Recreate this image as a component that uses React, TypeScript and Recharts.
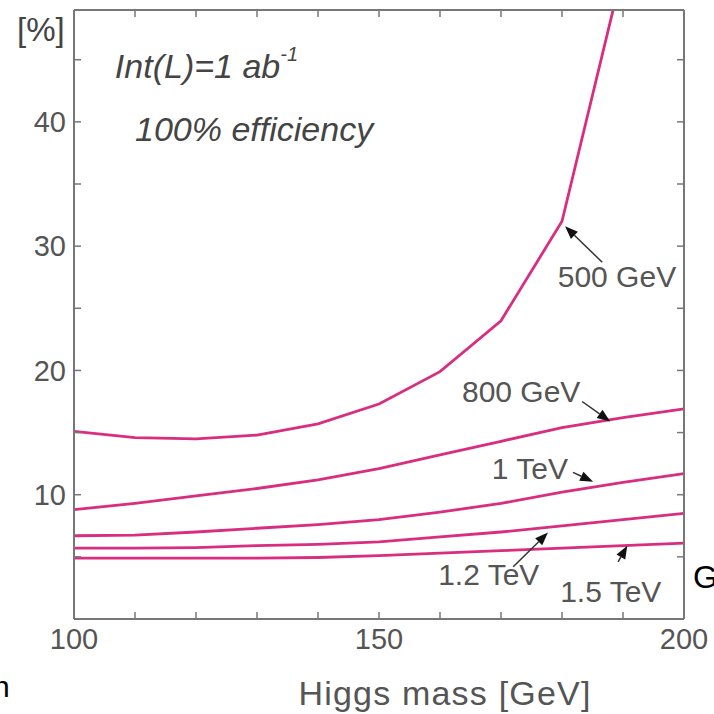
import React from 'react'
import { LineChart, Line, XAxis, YAxis, ReferenceLine, ReferenceDot } from 'recharts'

// Higgs mass [GeV]
const masses = [100, 110, 120, 130, 140, 150, 160, 170, 180, 190, 200]
// error [%] per collider energy
const eff500 = [15.1, 14.6, 14.5, 14.8, 15.7, 17.3, 19.9, 24.0, 32.0, 52.3, null]
const eff800 = [8.8, 9.3, 9.9, 10.5, 11.2, 12.1, 13.2, 14.3, 15.4, 16.2, 16.9]
const eff1000 = [6.7, 6.75, 7.0, 7.3, 7.6, 8.0, 8.6, 9.3, 10.2, 11.0, 11.7]
const eff1200 = [5.7, 5.7, 5.75, 5.9, 6.0, 6.2, 6.6, 7.0, 7.5, 8.0, 8.5]
const eff1500 = [4.9, 4.9, 4.9, 4.9, 4.95, 5.1, 5.3, 5.5, 5.7, 5.9, 6.1]

const xTicks = [100, 110, 120, 130, 140, 150, 160, 170, 180, 190, 200]
const yTicks = [0, 5, 10, 15, 20, 25, 30, 35, 40, 45]

const seriesKeys = ['e500', 'e800', 'e1000', 'e1200', 'e1500']

const data = masses.map((m, i) => ({
  mass: m,
  e500: eff500[i],
  e800: eff800[i],
  e1000: eff1000[i],
  e1200: eff1200[i],
  e1500: eff1500[i],
}))

// curve labels (data coords, text starts here)
const curveLabels = [
  { text: '500 GeV', x: 179.3, y: 26.7 },
  { text: '800 GeV', x: 163.6, y: 17.5 },
  { text: '1 TeV', x: 168.5, y: 11.3 },
  { text: '1.2 TeV', x: 159.7, y: 2.75 },
  { text: '1.5 TeV', x: 179.7, y: 1.37 },
]

// arrows: from -> tip
const arrows = [
  { from: [186.6, 28.7], to: [180.5, 31.6] },
  { from: [183.3, 17.5], to: [187.9, 15.9] },
  { from: [181.8, 11.8], to: [185.1, 11.05] },
  { from: [172.0, 4.2], to: [177.7, 6.95] },
  { from: [189.2, 4.6], to: [190.7, 5.9] },
]

const PINK = '#d92d80'
const AXIS = '#777'
const FONT = '"Liberation Sans", Arial, sans-serif'

const Arrow = (p: any) => {
  const { x1, y1, x2, y2 } = p
  const dx = x2 - x1
  const dy = y2 - y1
  const len = Math.sqrt(dx * dx + dy * dy) || 1
  const ux = dx / len
  const uy = dy / len
  const hl = 13
  const hw = 5
  const bx = x2 - ux * hl
  const by = y2 - uy * hl
  return (
    <g>
      <line x1={x1} y1={y1} x2={bx} y2={by} stroke="#333" strokeWidth={1.5} />
      <polygon
        points={`${x2},${y2} ${bx - uy * hw},${by + ux * hw} ${bx + uy * hw},${by - ux * hw}`}
        fill="#111"
      />
    </g>
  )
}

export default function App() {
  return (
    <div style={{ position: 'absolute', left: 0, top: 0, width: 714, height: 714, background: '#fff', fontFamily: FONT }}>
      <LineChart width={714} height={714} data={data} margin={{ top: 9, right: 29, bottom: 55, left: 0 }}>
        <XAxis
          dataKey="mass"
          type="number"
          domain={[100, 200]}
          ticks={xTicks}
          allowDataOverflow
          height={40}
          tickSize={-7}
          tickMargin={16}
          tickFormatter={v => (v % 50 === 0 ? String(v) : '')}
          tick={{ fontSize: 29, fill: '#555', fontFamily: FONT }}
          axisLine={{ stroke: AXIS, strokeWidth: 2 }}
          tickLine={{ stroke: AXIS, strokeWidth: 1.5 }}
        />
        <XAxis
          xAxisId="top"
          orientation="top"
          dataKey="mass"
          type="number"
          domain={[100, 200]}
          ticks={xTicks}
          allowDataOverflow
          height={1}
          tickSize={-7}
          tick={{ fontSize: 1, fill: 'none' }}
          tickFormatter={() => ''}
          axisLine={{ stroke: AXIS, strokeWidth: 2 }}
          tickLine={{ stroke: AXIS, strokeWidth: 1.5 }}
        />
        <YAxis
          type="number"
          domain={[0, 49]}
          ticks={yTicks}
          allowDataOverflow
          width={74}
          tickSize={-7}
          tickMargin={15}
          tickFormatter={v => (v > 0 && v % 10 === 0 ? String(v) : '')}
          tick={{ fontSize: 29, fill: '#555', fontFamily: FONT }}
          axisLine={{ stroke: AXIS, strokeWidth: 2 }}
          tickLine={{ stroke: AXIS, strokeWidth: 1.5 }}
        />
        <YAxis
          yAxisId="right"
          orientation="right"
          type="number"
          domain={[0, 49]}
          ticks={yTicks}
          allowDataOverflow
          width={1}
          tickSize={-7}
          tick={{ fontSize: 1, fill: 'none' }}
          tickFormatter={() => ''}
          axisLine={{ stroke: AXIS, strokeWidth: 2 }}
          tickLine={{ stroke: AXIS, strokeWidth: 1.5 }}
        />

        {seriesKeys.map(k => (
          <Line
            key={k}
            type="linear"
            dataKey={k}
            stroke={PINK}
            strokeWidth={2.8}
            dot={false}
            activeDot={false}
            isAnimationActive={false}
          />
        ))}

        {arrows.map((a, i) => (
          <ReferenceLine
            key={'arr' + i}
            segment={[{ x: a.from[0], y: a.from[1] }, { x: a.to[0], y: a.to[1] }]}
            ifOverflow="visible"
            shape={(p: any) => <Arrow {...p} />}
          />
        ))}

        {curveLabels.map(l => (
          <ReferenceDot
            key={l.text}
            x={l.x}
            y={l.y}
            r={0}
            ifOverflow="visible"
            shape={(p: any) => (
              <text x={p.cx} y={p.cy} fontSize={30} fill="#555" fontFamily={FONT}>{l.text}</text>
            )}
          />
        ))}

        <ReferenceDot
          x={106.7}
          y={43.5}
          r={0}
          ifOverflow="visible"
          shape={(p: any) => (
            <text x={p.cx} y={p.cy} fontSize={34} fill="#444" fontStyle="italic" fontFamily={FONT}>
              Int(L)=1 ab
              <tspan fontSize={20} dy={-17}>-1</tspan>
            </text>
          )}
        />
        <ReferenceDot
          x={110}
          y={38.5}
          r={0}
          ifOverflow="visible"
          shape={(p: any) => (
            <text x={p.cx} y={p.cy} fontSize={34} fill="#444" fontStyle="italic" fontFamily={FONT}>
              100% efficiency
            </text>
          )}
        />
      </LineChart>

      <svg width={714} height={714} style={{ position: 'absolute', left: 0, top: 0, pointerEvents: 'none' }}>
        <text x={17} y={41} fontSize={33} fill="#444" fontFamily={FONT}>[%]</text>
        <text x={445} y={705} fontSize={34} fill="#555" fontFamily={FONT} textAnchor="middle" letterSpacing={1.2}>
          Higgs mass [GeV]
        </text>
        <text x={693} y={588} fontSize={32} fill="#000" fontFamily={FONT}>G</text>
        <text x={-7} y={697} fontSize={30} fill="#000" fontFamily={FONT}>n</text>
      </svg>
    </div>
  )
}
